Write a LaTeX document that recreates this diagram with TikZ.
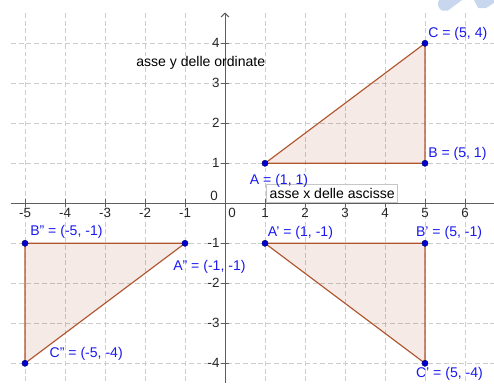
\documentclass[tikz,border=0pt]{standalone}
\usepackage{fontspec}
\setmainfont{Liberation Sans}
\usetikzlibrary{arrows.meta}
\definecolor{gridc}{RGB}{205,205,205}
\definecolor{axisc}{RGB}{95,95,95}
\definecolor{edgec}{RGB}{175,85,45}
\definecolor{fillc}{RGB}{153,51,0}
\definecolor{ptc}{RGB}{0,0,210}
\definecolor{labc}{RGB}{25,25,240}
\definecolor{wmc}{RGB}{200,214,238}
\tikzset{
 gridline/.style={gridc, line width=0.6pt, dash pattern=on 3.5pt off 2pt},
 axisline/.style={axisc, line width=0.7pt},
 tri/.style={draw=edgec, line width=0.8pt, fill=fillc, fill opacity=0.1, line join=round},
 pt/.style={circle, fill=ptc, draw=black!60!blue, line width=0.3pt, inner sep=0pt, minimum size=4.4pt},
 plabel/.style={text=labc, font=\fontsize{10}{12}\selectfont, inner sep=0pt, anchor=west},
 ticklab/.style={text=black!85, font=\fontsize{9.5}{11}\selectfont, inner sep=0pt},
}
\begin{document}
\begin{tikzpicture}
\useasboundingbox (-5.625,-4.4925) rectangle (6.725,5.0825);
% watermark fragments
\fill[wmc] (5.35,5.0825) -- (5.925,5.0825) -- (5.575,4.82) -- (5.42,4.82) to[out=150,in=-120] cycle;
\fill[wmc] (6.225,5.0825) -- (6.725,5.0825) -- (6.725,5.0075) -- (6.525,4.8825) -- (6.33,4.8825) -- cycle;
% grid
\foreach \x in {-5,...,-1,1,2,...,6} \draw[gridline] (\x,4.76) -- (\x,-4.4925);
\foreach \y in {-4,...,-1,1,2,...,4} \draw[gridline] (-5.35,\y) -- (6.725,\y);
% axes
\coordinate (xs) at (-5.35,0);
\coordinate (xe) at (6.725,0);
\coordinate (ys) at (0,-4.4925);
\coordinate (ye) at (0,4.77);
\draw[axisline] (xs) -- (xe);
\draw[axisline, -{Straight Barb[length=2.8pt,width=5.8pt]}] (ys) -- (ye);
\foreach \x in {-5,...,-1,1,2,...,6} {
  \draw[axisline] (\x,0.11) -- (\x,-0.09);
  \node[ticklab] (xl\x) at (\x,-0.245) {\x};
}
\foreach \y in {-4,...,-1,1,2,...,4} {
  \draw[axisline] (-0.1,\y) -- (0.1,\y);
  \node[ticklab, anchor=east] (yl\y) at (-0.13,\y) {\y};
}
\node[ticklab] (o1) at (-0.275,0.18) {0};
\node[ticklab] (o2) at (0.175,-0.25) {0};
% axis names
\node[font=\fontsize{10}{12}\selectfont, inner sep=0pt, anchor=west] (yname) at (-2.225,3.51) {asse y delle ordinate};
\node[draw=gray!45, fill=white, line width=0.5pt, font=\fontsize{10}{12}\selectfont, inner sep=0pt, minimum width=3.28cm, minimum height=0.45cm] (xname) at (2.68,0.25) {asse x delle ascisse};
% points
\coordinate (A) at (1,1);
\coordinate (B) at (5,1);
\coordinate (C) at (5,4);
\coordinate (A1) at (1,-1);
\coordinate (B1) at (5,-1);
\coordinate (C1) at (5,-4);
\coordinate (A2) at (-1,-1);
\coordinate (B2) at (-5,-1);
\coordinate (C2) at (-5,-4);
% triangles
\draw[tri] (A) -- (B) -- (C) -- cycle;
\draw[tri] (A1) -- (B1) -- (C1) -- cycle;
\draw[tri] (A2) -- (B2) -- (C2) -- cycle;
\foreach \p in {A,B,C,A1,B1,C1,A2,B2,C2} \node[pt] (d\p) at (\p) {};
% labels
\node[plabel] (lC) at (5.075,4.225) {C = (5, 4)};
\node[plabel] (lB) at (5.075,1.225) {B = (5, 1)};
\node[plabel, anchor=center] (lA) at (1.35,0.5575) {A = (1, 1)};
\node[plabel] (lA1) at (1.0675,-0.75) {A' = (1, -1)};
\node[plabel] (lB1) at (4.77,-0.75) {B' = (5, -1)};
\node[plabel] (lC1) at (4.77,-4.275) {C' = (5, -4)};
\node[plabel] (lB2) at (-4.875,-0.71) {B'' = (-5, -1)};
\node[plabel] (lA2) at (-1.3,-1.59) {A'' = (-1, -1)};
\node[plabel] (lC2) at (-4.39,-3.775) {C'' = (-5, -4)};
\end{tikzpicture}
\end{document}
